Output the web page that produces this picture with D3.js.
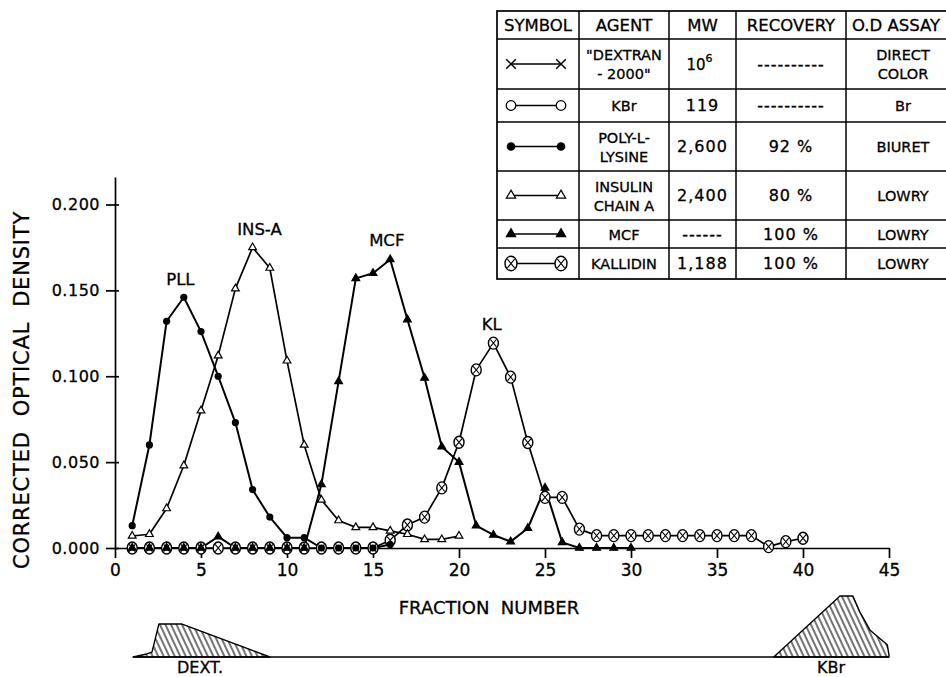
<!DOCTYPE html>
<html>
<head>
<meta charset="utf-8">
<script src="https://cdn.jsdelivr.net/npm/d3@7"></script>
<style>
  body { margin: 0; background: #fff; }
  svg { display: block; font-family: 'DejaVu Sans', sans-serif; }
  text { fill: #000; stroke: #000; stroke-width: 0.3px; }
</style>
</head>
<body>
<svg id="chart" width="946" height="677"></svg>
<script>
// fractions start at 1 for every series
const pllValues = [0.013, 0.060, 0.132, 0.146, 0.126, 0.100, 0.073, 0.034, 0.018, 0.006, 0.006, 0, 0, 0, 0, 0.002]
const insValues = [0.007, 0.008, 0.023, 0.048, 0.080, 0.112, 0.151, 0.175, 0.163, 0.109, 0.060, 0.028, 0.016, 0.012, 0.012, 0.010, 0.008, 0.005, 0.005, 0.007]
const mcfValues = [0, 0, 0, 0, 0, 0.0066, 0, 0, 0, 0, 0, 0.037, 0.097, 0.157, 0.160, 0.168, 0.133, 0.099, 0.059, 0.050,
  0.013, 0.0076, 0.0037, 0.0115, 0.035, 0.0033, 0, 0, 0, 0]
const klValues = [0, 0, 0, 0, 0, 0, 0, 0, 0, 0, 0, 0, 0, 0, 0, 0.0045, 0.0134, 0.018, 0.035, 0.0616,
  0.1037, 0.1193, 0.0995, 0.0614, 0.0295, 0.0295, 0.011, 0.0072, 0.0072, 0.0072, 0.0072, 0.0072, 0.0072, 0.0072, 0.0072, 0.0072,
  0.0072, 0.0008, 0.0037, 0.0057]

const peakLabels = [
  { text: 'PLL', fraction: 3.8, value: 0.153 },
  { text: 'INS-A', fraction: 8.4, value: 0.182 },
  { text: 'MCF', fraction: 15.8, value: 0.176 },
  { text: 'KL', fraction: 21.9, value: 0.127 }
]

const xTicks = [0, 5, 10, 15, 20, 25, 30, 35, 40, 45]
const yTicks = [0, 0.05, 0.10, 0.15, 0.20]

// elution profiles under the axis, [fraction, relative height]
const dextProfile = [[1.05, 0], [1.85, 0.05], [2.15, 0.08], [2.55, 0.54], [3.9, 0.54], [9.0, 0]]
const kbrProfile = [[38.3, 0], [42.15, 1], [42.9, 1], [43.3, 0.74], [43.9, 0.44], [44.9, 0.2], [45.0, 0.03], [45.0, 0]]

const tableHeaders = ['SYMBOL', 'AGENT', 'MW', 'RECOVERY', 'O.D ASSAY']
const tableSymbols = ['x', 'o', 'dot', 'tri', 'ftri', 'otimes']
const tableAgents = [['"DEXTRAN', '- 2000"'], ['KBr'], ['POLY-L-', 'LYSINE'], ['INSULIN', 'CHAIN A'], ['MCF'], ['KALLIDIN']]
const tableMW = ['10^6', '119', '2,600', '2,400', '------', '1,188']
const tableRecovery = ['----------', '----------', '92 %', '80 %', '100 %', '100 %']
const tableAssay = [['DIRECT', 'COLOR'], ['Br'], ['BIURET'], ['LOWRY'], ['LOWRY'], ['LOWRY']]

const svg = d3.select('#chart')

const x = d3.scaleLinear([0, 45], [115, 889])
const y = d3.scaleLinear([0, 0.216], [548, 177])

// hatching
svg.append('defs').append('pattern')
  .attr('id', 'hatch')
  .attr('patternUnits', 'userSpaceOnUse')
  .attr('width', 5).attr('height', 10)
  .attr('patternTransform', 'rotate(-25)')
  .append('line')
  .attr('x1', 1).attr('y1', 0).attr('x2', 1).attr('y2', 10)
  .attr('stroke', '#000').attr('stroke-width', 1.1)

// axes

const xAxis = svg.append('g')
  .attr('transform', `translate(0,${y(0)})`)
  .call(d3.axisBottom(x).tickValues(xTicks).tickSizeInner(10).tickSizeOuter(0).tickPadding(6).tickFormat(d3.format('d')))
xAxis.selectAll('text').attr('font-family', 'DejaVu Sans').attr('font-size', 17)
xAxis.selectAll('path, line').attr('stroke-width', 1.7)

const yAxis = svg.append('g')
  .attr('transform', `translate(${x(0)},0)`)
  .call(d3.axisLeft(y).tickValues(yTicks).tickSizeInner(9).tickSizeOuter(0).tickPadding(6).tickFormat(d3.format('.3f')))
yAxis.selectAll('.tick line').attr('x1', 4)
yAxis.selectAll('text').attr('font-family', 'DejaVu Sans').attr('font-size', 16).attr('letter-spacing', 0.5)
yAxis.selectAll('path, line').attr('stroke-width', 1.7)

svg.append('text')
  .attr('transform', `translate(29,${390}) rotate(-90)`)
  .attr('text-anchor', 'middle')
  .attr('font-size', 21)
  .attr('letter-spacing', 0.8)
  .attr('xml:space', 'preserve')
  .text('CORRECTED  OPTICAL  DENSITY')

svg.append('text')
  .attr('x', 489).attr('y', 614)
  .attr('text-anchor', 'middle')
  .attr('font-size', 18)
  .attr('xml:space', 'preserve')
  .text('FRACTION  NUMBER')

// markers

function drawMarker(g, kind, cx, cy, k = 1) {
  if (kind === 'dot') {
    g.append('circle').attr('cx', cx).attr('cy', cy).attr('r', 3.6 * k).attr('fill', '#000')
  } else if (kind === 'o') {
    g.append('circle').attr('cx', cx).attr('cy', cy).attr('r', 4 * k).attr('fill', '#fff').attr('stroke', '#000').attr('stroke-width', 1.3)
  } else if (kind === 'tri' || kind === 'ftri') {
    g.append('path')
      .attr('transform', `translate(${cx},${cy})`)
      .attr('d', d3.symbol(d3.symbolTriangle, 26 * k * k)())
      .attr('fill', kind === 'ftri' ? '#000' : '#fff')
      .attr('stroke', '#000').attr('stroke-width', 1.2)
  } else if (kind === 'x') {
    const r = 4 * k
    g.append('path')
      .attr('d', `M${cx - r},${cy - r}L${cx + r},${cy + r}M${cx - r},${cy + r}L${cx + r},${cy - r}`)
      .attr('stroke', '#000').attr('stroke-width', 1.5)
  } else if (kind === 'otimes') {
    g.append('ellipse').attr('cx', cx).attr('cy', cy).attr('rx', 5 * k).attr('ry', 6 * k)
      .attr('fill', '#fff').attr('stroke', '#000').attr('stroke-width', 1.4)
    g.append('path')
      .attr('d', `M${cx - 3 * k},${cy - 3.6 * k}L${cx + 3 * k},${cy + 3.6 * k}M${cx - 3 * k},${cy + 3.6 * k}L${cx + 3 * k},${cy - 3.6 * k}`)
      .attr('stroke', '#000').attr('stroke-width', 1.1)
  }
}

const line = d3.line()
  .x(d => x(d.f))
  .y(d => y(d.v))

function toPoints(values) {
  return values.map((v, i) => ({ f: i + 1, v }))
}

const series = [
  { values: klValues, marker: 'otimes', width: 1.7 },
  { values: insValues, marker: 'tri', width: 1.7 },
  { values: pllValues, marker: 'dot', width: 2 },
  { values: mcfValues, marker: 'ftri', width: 2 }
]

const plot = svg.append('g')
series.forEach(s => {
  plot.append('path')
    .datum(toPoints(s.values))
    .attr('d', line)
    .attr('fill', 'none')
    .attr('stroke', '#000')
    .attr('stroke-width', s.width)
    .attr('stroke-linejoin', 'round')
})
series.forEach(s => {
  const g = plot.append('g')
  toPoints(s.values).forEach(d => drawMarker(g, s.marker, x(d.f), y(d.v)))
})

plot.selectAll('.peak-label')
  .data(peakLabels)
  .enter().append('text')
  .attr('class', 'peak-label')
  .attr('x', d => x(d.fraction))
  .attr('y', d => y(d.value))
  .attr('text-anchor', 'middle')
  .attr('font-size', 16.5)
  .text(d => d.text)

// elution profiles

const sy = d3.scaleLinear([0, 1], [657, 596])
const area = d3.area()
  .x(d => x(d[0]))
  .y0(sy(0))
  .y1(d => sy(d[1]))

svg.append('line')
  .attr('x1', x(dextProfile[0][0])).attr('x2', x(45))
  .attr('y1', sy(0)).attr('y2', sy(0))
  .attr('stroke', '#000').attr('stroke-width', 1.6)

;[dextProfile, kbrProfile].forEach(p => {
  svg.append('path')
    .datum(p)
    .attr('d', area)
    .attr('fill', 'url(#hatch)')
    .attr('stroke', '#000')
    .attr('stroke-width', 1.4)
    .attr('stroke-linejoin', 'round')
})

svg.append('text').attr('x', 200).attr('y', 673).attr('text-anchor', 'middle').attr('font-size', 16).text('DEXT.')
svg.append('text').attr('x', 831).attr('y', 673).attr('text-anchor', 'middle').attr('font-size', 16).text('KBr')

// table

const colEdges = [497, 579, 669, 736, 846, 960]
const rowEdges = [11, 39, 89, 122, 171, 220, 248, 279]
const table = svg.append('g')

table.append('rect')
  .attr('x', colEdges[0]).attr('y', rowEdges[0])
  .attr('width', colEdges[5] - colEdges[0]).attr('height', rowEdges[7] - rowEdges[0])
  .attr('fill', 'none').attr('stroke', '#000').attr('stroke-width', 1.7)

colEdges.slice(1, 5).forEach(cx => {
  table.append('line').attr('x1', cx).attr('x2', cx).attr('y1', rowEdges[0]).attr('y2', rowEdges[7])
    .attr('stroke', '#000').attr('stroke-width', 1.5)
})
rowEdges.slice(1, 7).forEach(ry => {
  table.append('line').attr('x1', colEdges[0]).attr('x2', colEdges[5]).attr('y1', ry).attr('y2', ry)
    .attr('stroke', '#000').attr('stroke-width', 1.5)
})

const colCenter = i => (colEdges[i] + colEdges[i + 1]) / 2
const rowCenter = i => (rowEdges[i] + rowEdges[i + 1]) / 2

tableHeaders.forEach((h, i) => {
  table.append('text')
    .attr('x', i === 4 ? 852 : colCenter(i))
    .attr('y', rowCenter(0) + 6)
    .attr('text-anchor', i === 4 ? 'start' : 'middle')
    .attr('font-size', 16.5)
    .text(h)
})

function cellText(lines, col, row, size, spacing = 0) {
  const cy = rowCenter(row + 1)
  lines.forEach((t, k) => {
    table.append('text')
      .attr('x', colCenter(col))
      .attr('y', cy + 5.5 + (k - (lines.length - 1) / 2) * 19)
      .attr('text-anchor', 'middle')
      .attr('font-size', size)
      .attr('letter-spacing', spacing)
      .attr('xml:space', 'preserve')
      .text(t)
  })
}

tableSymbols.forEach((s, r) => {
  const cy = rowCenter(r + 1)
  table.append('line').attr('x1', 511).attr('x2', 561).attr('y1', cy).attr('y2', cy)
    .attr('stroke', '#000').attr('stroke-width', 1.4)
  drawMarker(table, s, 511, cy, 1.2)
  drawMarker(table, s, 561, cy, 1.2)

  cellText(tableAgents[r], 1, r, 14.5)
  if (tableMW[r] === '10^6') {
    const t = table.append('text')
      .attr('x', colCenter(2) - 3).attr('y', cy + 6)
      .attr('text-anchor', 'middle').attr('font-size', 15)
    t.append('tspan').text('10')
    t.append('tspan').attr('dy', -8).attr('font-size', 11).text('6')
  } else {
    cellText([tableMW[r]], 2, r, 16, 1)
  }
  cellText([tableRecovery[r]], 3, r, 16, 1)
  cellText(tableAssay[r], 4, r, 14.5)
})
</script>
</body>
</html>
